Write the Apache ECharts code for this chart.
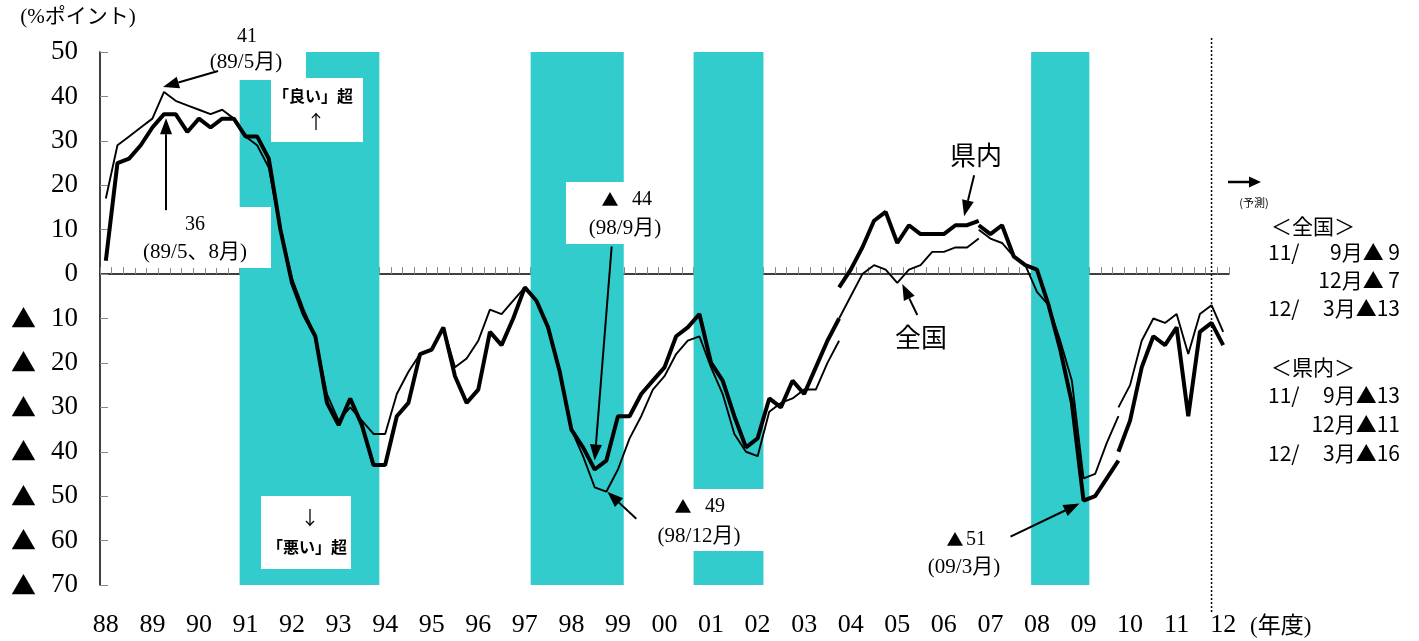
<!DOCTYPE html>
<html><head><meta charset="utf-8">
<script src="https://cdn.jsdelivr.net/npm/echarts@6/dist/echarts.min.js"></script>
<style>html,body{margin:0;padding:0;background:#fff}#c{width:1419px;height:641px}</style>
</head><body><div id="c"></div>
<script>
// ---- tick labels (fiscal years), one per 4 quarters ----
const yearLabels = ['88','89','90','91','92','93','94','95','96','97','98','99','00','01','02','03','04','05','06','07','08','09','10','11','12'];

// ---- 県内 (prefecture, thick line) ; segments split at survey revisions ----
const kennai1 = [3,25,26,29,33,36,36,32,35,33, 35,35,31,31,26,10,-2,-9,-14,-29,
  -34,-28,-34,-43,-43,-32,-29,-18,-17,-12, -23,-29,-26,-13,-16,-10,-3,-6,-12,-22,
  -35,-39,-44,-42,-32,-32,-27,-24,-21,-14, -12,-9,-20,-24,-32,-39,-37,-28,-30,-24,
  -27,-21,-15,-10];                       // quarters 0..63
const kennai2 = [-3,1,6,12,14,7,11,9,9,9,11,11,12];           // quarters 63..75
const kennai3 = [11,9,11,4,2,1,-7,-17,-29,-51,-50,-46,-42];   // quarters 75..87
const kennai4 = [-40,-33,-21,-14,-16,-12,-32,-13,-11,-16];    // quarters 87..96

// ---- 全国 (national, thin line) ----
const zenkoku1 = [17,29,31,33,35,41,39,38,37,36, 37,35,31,29,24,10,-1,-8,-14,-27,
  -33,-30,-33,-36,-36,-27,-22,-18,-17,-12, -21,-19,-15,-8,-9,-6,-3,-6,-12,-22,
  -35,-41,-48,-49,-44,-37,-32,-26,-23,-18, -15,-14,-21,-27,-36,-40,-41,-31,-29,-28,
  -26,-26,-20,-15];
const zenkoku2 = [-10,-5,0,2,1,-2,1,2,5,5,6,6,8];
const zenkoku3 = [10,8,7,4,2,-4,-7,-15,-24,-46,-45,-38,-32];
const zenkoku4 = [-30,-25,-15,-10,-11,-9,-18,-9,-7,-13];

const segStarts = [0, 63, 75, 87];
// recession periods, in quarter boundaries
const recessionBands = [[12,24],[37,45],[51,57],[80,85]];
const lastActualQuarter = 95;

const NQ = 97;
const cats = [];
for (let i = 0; i < NQ; i++) cats.push(i % 4 === 0 ? yearLabels[i / 4] : '');

function pts(start, arr) { return arr.map((v, k) => [start + k + 0.5, v]); }

const SERIF = '"Liberation Serif","Noto Sans CJK JP"';
const SANS = '"Noto Sans CJK JP"';

const chart = echarts.init(document.getElementById('c'), null, {renderer: 'canvas'});

const kSegs = [kennai1, kennai2, kennai3, kennai4];
const zSegs = [zenkoku1, zenkoku2, zenkoku3, zenkoku4];
const series = [{
  type: 'line', data: [], xAxisIndex: 0, z: -1, silent: true,
  markArea: {silent: true, itemStyle: {color: '#33CCCC'},
    data: recessionBands.map(b => [{xAxis: b[0]}, {xAxis: b[1]}])}
}];
zSegs.forEach((arr, s) => series.push({
  name: '全国', type: 'line', xAxisIndex: 0, data: pts(segStarts[s], arr), symbol: 'none',
  lineStyle: {color: '#000', width: 1.9}, z: 3, silent: true
}));
kSegs.forEach((arr, s) => series.push({
  name: '県内', type: 'line', xAxisIndex: 0, data: pts(segStarts[s], arr), symbol: 'none',
  lineStyle: {color: '#000', width: 4}, z: 4, silent: true
}));

chart.setOption({
  animation: false,
  backgroundColor: '#fff',
  grid: {left: 100, right: 190, top: 52, bottom: 56},
  xAxis: [{
    type: 'value', min: 0, max: NQ, interval: 1,
    axisLine: {onZero: true, lineStyle: {color: '#000', width: 1.5}},
    axisTick: {inside: true, length: 7, lineStyle: {color: '#888', width: 1}},
    axisLabel: {show: false}, splitLine: {show: false}
  }, {
    type: 'category', data: cats, boundaryGap: true, position: 'bottom',
    axisLine: {show: false, onZero: false}, axisTick: {show: false},
    axisLabel: {interval: 3, margin: 27, fontFamily: '"Liberation Serif"', fontSize: 26, color: '#000'},
    splitLine: {show: false}
  }],
  yAxis: {
    type: 'value', min: -70, max: 50, interval: 10,
    axisLine: {show: true, lineStyle: {color: '#000', width: 1.5}},
    axisTick: {show: true, inside: true, length: 8, lineStyle: {color: '#888'}},
    splitLine: {show: false},
    axisLabel: {
      margin: 22,
      formatter: v => v < 0 ? '{t|▲}{n|' + (-v) + '}' : '{n|' + v + '}',
      rich: {
        t: {fontFamily: SANS, fontSize: 25, width: 40, align: 'left', color: '#000'},
        n: {fontFamily: '"Liberation Serif"', fontSize: 27, color: '#000'}
      }
    }
  },
  series: series
});

// ---------- annotations ----------
function P(x, y) { return chart.convertToPixel({gridIndex: 0}, [x, y]); }
const g = [];
function rect(x, y, w, h) { g.push({type: 'rect', shape: {x, y, width: w, height: h}, style: {fill: '#fff'}, z: 50}); }
function txt(s, x, y, font, align) {
  g.push({type: 'text', z: 60, style: {text: s, x, y, font, fill: '#000', align: align || 'center', verticalAlign: 'middle'}});
}
function arrow(tail, tip, hl, hw, lw) {
  const dx = tip[0] - tail[0], dy = tip[1] - tail[1], L = Math.hypot(dx, dy), ux = dx / L, uy = dy / L;
  const bx = tip[0] - ux * hl, by = tip[1] - uy * hl, px = -uy, py = ux;
  g.push({type: 'line', z: 70, shape: {x1: tail[0], y1: tail[1], x2: bx, y2: by}, style: {stroke: '#000', lineWidth: lw}});
  g.push({type: 'polygon', z: 70, shape: {points: [[tip[0], tip[1]], [bx + px * hw / 2, by + py * hw / 2], [bx - px * hw / 2, by - py * hw / 2]]}, style: {fill: '#000'}});
}
function dataArrow(qx, val, tipOff, tailOff, hl, hw, lw) {
  const p = P(qx + 0.5, val);
  arrow([p[0] + tailOff[0], p[1] + tailOff[1]], [p[0] + tipOff[0], p[1] + tipOff[1]], hl, hw, lw);
}

// white label boxes
rect(205, 20, 101, 60);
rect(271, 78, 92, 64);
rect(135, 207, 136, 61);
rect(261, 496, 90, 73);
rect(566, 182, 115, 62);
rect(650, 489, 120, 62);

const NUM = '20px ' + SERIF, PAR = '21px ' + SERIF;
txt('(%ポイント)', 78, 17, '21px ' + SERIF);
txt('41', 247, 37, NUM);
txt('(89/5月)', 246, 62, PAR);
txt('36', 195, 225, NUM);
txt('(89/5、8月)', 195, 252, PAR);
txt('「良い」超', 313, 96, 'bold 16px ' + SANS);
txt('↑', 316, 122, '19px ' + SANS);
txt('↓', 310, 518, '19px ' + SANS);
txt('「悪い」超', 307, 547, 'bold 16px ' + SANS);
txt('▲', 610, 200, '17px ' + SANS);
txt('44', 642, 200, NUM);
txt('(98/9月)', 625, 228, PAR);
txt('▲', 683, 507, '17px ' + SANS);
txt('49', 715, 507, NUM);
txt('(98/12月)', 699, 536, PAR);
txt('▲', 955, 540, '17px ' + SANS);
txt('51', 976, 540, NUM);
txt('(09/3月)', 964, 567, PAR);
txt('県内', 976, 155, '26px ' + SANS);
txt('全国', 921, 337, '26px ' + SANS);
txt('(予測)', 1254, 203, '11px ' + SANS);
txt('(年度)', 1250, 627, '23px ' + SERIF, 'left');

const R = 1400, L0 = 1268, F = '21px ' + SANS;
txt('＜全国＞', 1313, 226, F);
txt('11/', L0, 252, F, 'left'); txt('9月▲ 9', R, 252, F, 'right');
txt('12月▲ 7', R, 280, F, 'right');
txt('12/', L0, 308, F, 'left'); txt('3月▲13', R, 308, F, 'right');
txt('＜県内＞', 1313, 367, F);
txt('11/', L0, 395, F, 'left'); txt('9月▲13', R, 395, F, 'right');
txt('12月▲11', R, 424, F, 'right');
txt('12/', L0, 453, F, 'left'); txt('3月▲16', R, 453, F, 'right');

// arrows pointing at data points
dataArrow(5, 41, [-1, -5], [54, -21], 16, 12, 2);
dataArrow(5, 36, [2, 4], [2, 96], 16, 12, 2);
dataArrow(42, -44, [0, -9], [17, -223], 16, 12, 2);
dataArrow(43, -49, [1, 0], [30, 27], 16, 12, 2);
dataArrow(84, -51, [-4, 3], [-73, 36], 16, 12, 2);
dataArrow(74, 11, [-3, -9], [7, -50], 16, 12, 2);
dataArrow(68, -2, [5, 1], [20, 32], 16, 12, 2);
// forecast arrow
arrow([1228, 182], [1261, 182], 12, 11, 2.5);

// dotted line at latest actual quarter
const xd = P(lastActualQuarter + 0.5, 0)[0];
g.push({type: 'line', z: 40, shape: {x1: xd, y1: 38, x2: xd, y2: 613}, style: {stroke: '#000', lineWidth: 1.5, lineDash: [2, 2]}});

chart.setOption({graphic: g});
</script></body></html>
